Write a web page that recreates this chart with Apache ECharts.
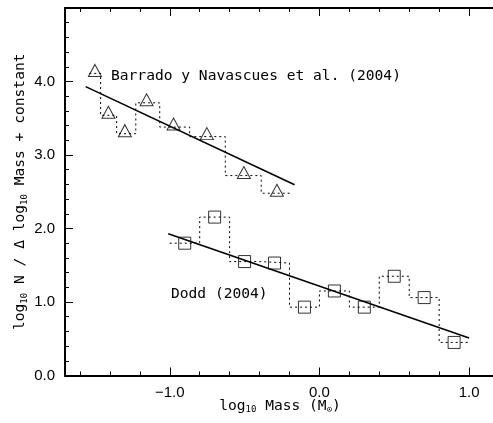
<!DOCTYPE html>
<html>
<head>
<meta charset="utf-8">
<script src="https://cdn.jsdelivr.net/npm/echarts@6/dist/echarts.min.js"></script>
<style>
  html, body { margin: 0; padding: 0; background: #fff; overflow: hidden; }
  #chart { width: 493px; height: 423px; }
</style>
</head>
<body>
<div id="chart"></div>
<script>
// Barrado y Navascues et al. (2004): bin edges, bin centres, values
var barradoEdges = [-1.538, -1.462, -1.355, -1.227, -1.067, -0.867, -0.629, -0.389, -0.185];
var barradoMass = [-1.50, -1.41, -1.30, -1.155, -0.975, -0.752, -0.505, -0.284];
var barradoVal = [4.11, 3.54, 3.29, 3.71, 3.38, 3.25, 2.72, 2.48];
var barradoFitX = [-1.562, -0.166];
var barradoFitY = [3.93, 2.595];

// Dodd (2004)
var doddEdges = [-1.0, -0.8, -0.6, -0.4, -0.2, 0.0, 0.2, 0.4, 0.6, 0.8, 1.0];
var doddMass = [-0.9, -0.7, -0.5, -0.3, -0.1, 0.1, 0.3, 0.5, 0.7, 0.9];
var doddVal = [1.80, 2.155, 1.55, 1.53, 0.93, 1.15, 0.93, 1.35, 1.06, 0.45];
var doddFitX = [-1.01, 1.0];
var doddFitY = [1.93, 0.51];

// axis ticks
var xMajorTicks = [-1, 0, 1];
var xMinorTicks = [-1.6, -1.4, -1.2, -0.8, -0.6, -0.4, -0.2, 0.2, 0.4, 0.6, 0.8, 1.2];
var yMajorTicks = [0, 1, 2, 3, 4, 5];
var yLabelTicks = [0, 1, 2, 3, 4];
var yMinorTicks = [0.2, 0.4, 0.6, 0.8, 1.2, 1.4, 1.6, 1.8, 2.2, 2.4, 2.6, 2.8, 3.2, 3.4, 3.6, 3.8, 4.2, 4.4, 4.6, 4.8];

// the plot runs on past the right edge of the picture (no right frame there)
var XMIN = -1.7, XMAX = 1.2935, YMIN = 0, YMAX = 5;

function steps(edges, vals) {
	var pts = [];
	for (var i = 0; i < vals.length; i++) {
		pts.push([edges[i], vals[i]]);
		pts.push([edges[i + 1], vals[i]]);
	}
	return pts;
}
function pairs(xs, ys) {
	return xs.map(function (x, i) { return [x, ys[i]]; });
}

var monoFont = 'DejaVu Sans Mono';
var labFont = 'Liberation Sans';
var black = '#000';
var tickStyle = { color: black, width: 1 };
var gridBox = { left: 65, right: -20, top: 8, bottom: 47.5, outerBoundsMode: 'none' };

// grid 0 carries axis lines, minor ticks and labels; grid 1 (same box) only the long major ticks
function axis(dim, pos, grid, ticks, len, showLine, extra) {
	return Object.assign({
		type: 'value', gridIndex: grid, position: pos,
		min: dim === 'x' ? XMIN : YMIN, max: dim === 'x' ? XMAX : YMAX,
		splitLine: { show: false },
		axisLine: { show: showLine, onZero: false, lineStyle: { color: black, width: 2 } },
		axisTick: { show: true, inside: true, length: len, customValues: ticks, lineStyle: tickStyle },
		axisLabel: { show: false }
	}, extra || {});
}

var nameRich = {
	n: { fontFamily: monoFont, fontSize: 14.6, color: black },
	s: { fontFamily: monoFont, fontSize: 9, color: black, padding: [8, 0, 0, 0] }
};

var xAxes = [
	axis('x', 'bottom', 0, xMinorTicks, 4, true, {
		axisLabel: {
			show: true, customValues: xMajorTicks, margin: 10,
			fontFamily: labFont, fontSize: 15, color: black,
			formatter: function (v) { return v.toFixed(1).replace('-', '\u2212'); }
		},
		name: '{n|log}{s|10}{n| Mass (M}{s|\u2299}{n|)}',
		nameLocation: 'middle', nameGap: 22, nameMoveOverlap: false,
		nameTextStyle: { rich: nameRich, padding: [0, 18, 0, 0] }
	}),
	axis('x', 'top', 0, xMinorTicks, 4, true),
	axis('x', 'bottom', 1, xMajorTicks, 8, false),
	axis('x', 'top', 1, xMajorTicks, 8, false)
];

var yAxes = [
	axis('y', 'left', 0, yMinorTicks, 4, true, {
		axisLabel: {
			show: true, customValues: yLabelTicks, margin: 10,
			fontFamily: labFont, fontSize: 15, color: black,
			formatter: function (v) { return v.toFixed(1); }
		},
		name: '{n|log}{s|10}{n| N / \u0394 log}{s|10}{n| Mass + constant}',
		nameLocation: 'middle', nameGap: 36, nameRotate: 90, nameMoveOverlap: false,
		nameTextStyle: { rich: nameRich }
	}),
	axis('y', 'left', 1, yMajorTicks, 8, false)
];

var hollow = { color: 'rgba(0,0,0,0)', borderColor: black, borderWidth: 1 };
var dotted = { color: black, width: 1, type: [2, 3] };

var chart = echarts.init(document.getElementById('chart'));
chart.setOption({
	backgroundColor: '#fff',
	animation: false,
	grid: [Object.assign({}, gridBox), Object.assign({}, gridBox)],
	xAxis: xAxes,
	yAxis: yAxes,
	graphic: [
		{
			type: 'text', left: 111, top: 69,
			style: { text: 'Barrado y Navascues et al. (2004)', fontFamily: monoFont, fontSize: 14.6, fill: black }
		},
		{
			type: 'text', left: 171, top: 287,
			style: { text: 'Dodd (2004)', fontFamily: monoFont, fontSize: 14.6, fill: black }
		}
	],
	series: [
		{ type: 'line', data: steps(barradoEdges, barradoVal), symbol: 'none', lineStyle: dotted, silent: true },
		{ type: 'line', data: steps(doddEdges, doddVal), symbol: 'none', lineStyle: dotted, silent: true },
		{ type: 'line', data: pairs(barradoFitX, barradoFitY), symbol: 'none', lineStyle: { color: black, width: 1.6 }, silent: true },
		{ type: 'line', data: pairs(doddFitX, doddFitY), symbol: 'none', lineStyle: { color: black, width: 1.6 }, silent: true },
		{
			type: 'scatter', data: pairs(barradoMass, barradoVal), symbol: 'triangle',
			symbolSize: [13, 12], symbolOffset: [0, -3], itemStyle: hollow, silent: true
		},
		{
			type: 'scatter', data: pairs(doddMass, doddVal), symbol: 'rect',
			symbolSize: [12, 12], itemStyle: hollow, silent: true
		}
	]
});
</script>
</body>
</html>
